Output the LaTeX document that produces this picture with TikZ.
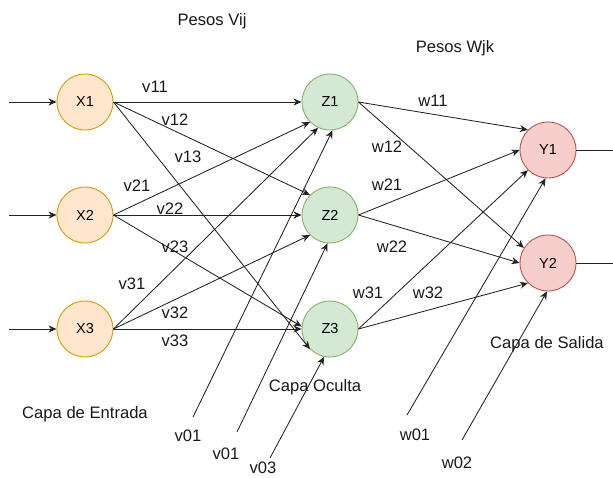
\documentclass[tikz,border=0pt]{standalone}
\usepackage{fontspec}
\setmainfont{Liberation Sans}
\usetikzlibrary{arrows.meta}
\definecolor{xfill}{HTML}{FFE6CC}\definecolor{xdraw}{HTML}{D79B00}
\definecolor{zfill}{HTML}{D5E8D4}\definecolor{zdraw}{HTML}{82B366}
\definecolor{yfill}{HTML}{F8CECC}\definecolor{ydraw}{HTML}{B85450}
\definecolor{edgec}{HTML}{222222}
\tikzset{
  neuron/.style={circle,minimum size=56pt,inner sep=0pt,line width=0.9pt,
    font=\fontsize{14.5}{17}\selectfont},
  xn/.style={neuron,draw=xdraw,fill=xfill},
  zn/.style={neuron,draw=zdraw,fill=zfill},
  yn/.style={neuron,draw=ydraw,fill=yfill},
  conn/.style={draw=edgec,line width=0.85pt,-{Stealth[length=8pt,width=7pt,inset=2.5pt]}},
  plain/.style={draw=edgec,line width=0.85pt},
  lbl/.style={inner sep=0pt,font=\fontsize{16.6}{19}\selectfont,text=black!90}
}
\begin{document}
\begin{tikzpicture}[x=1pt,y=-1pt]
\useasboundingbox (0,0) rectangle (613,477);
% neurons
\node[xn] (X1) at (85,102) {X1};
\node[xn] (X2) at (85,215) {X2};
\node[xn] (X3) at (85,329) {X3};
\node[zn] (Z1) at (330,102) {Z1};
\node[zn] (Z2) at (330,215) {Z2};
\node[zn] (Z3) at (330,329) {Z3};
\node[yn] (Y1) at (548,150) {Y1};
\node[yn] (Y2) at (548,263) {Y2};
% free ends
\coordinate (in1) at (9,102);
\coordinate (in2) at (9,215);
\coordinate (in3) at (9,329);
\coordinate (out1) at (613,150);
\coordinate (out2) at (613,263);
\coordinate (b1) at (193,417);
\coordinate (b2) at (237,432);
\coordinate (b3) at (270,458);
\coordinate (c1) at (407,415);
\coordinate (c2) at (462,440);
% inputs
\draw[conn] (in1) -- (X1.west);
\draw[conn] (in2) -- (X2.west);
\draw[conn] (in3) -- (X3.west);
% input -> hidden
\draw[conn] (X1.east) -- (Z1.west);
\draw[conn] (X1.east) -- (Z2.135);
\draw[conn] (X1.east) -- (Z3.225);
\draw[conn] (X2.east) -- (Z1.225);
\draw[conn] (X2.east) -- (Z2.west);
\draw[conn] (X2.east) -- (Z3.175);
\draw[conn] (X3.east) -- (Z1.245);
\draw[conn] (X3.east) -- (Z2.225);
\draw[conn] (X3.east) -- (Z3.west);
% hidden biases
\draw[conn] (b1) -- (Z1.275);
\draw[conn] (b2) -- (Z2.265);
\draw[conn] (b3) -- (Z3.258);
% hidden -> output
\draw[conn] (Z1.east) -- (Y1.135);
\draw[conn] (Z1.east) -- (Y2.148);
\draw[conn] (Z2.east) -- (Y1.west);
\draw[conn] (Z2.east) -- (Y2.west);
\draw[conn] (Z3.east) -- (Y1.225);
\draw[conn] (Z3.east) -- (Y2.225);
% output biases
\draw[conn] (c1) -- (Y1.265);
\draw[conn] (c2) -- (Y2.268);
% outputs
\draw[plain] (Y1.east) -- (out1);
\draw[plain] (Y2.east) -- (out2);
% labels
\node[lbl] (tv) at (212,21) {Pesos Vij};
\node[lbl] (tw) at (455,48) {Pesos Wjk};
\node[lbl] (l11) at (155,87) {v11};
\node[lbl] (l12) at (175,120) {v12};
\node[lbl] (l13) at (188,157) {v13};
\node[lbl] (l21) at (137,186) {v21};
\node[lbl] (l22) at (170,209) {v22};
\node[lbl] (l23) at (175,247) {v23};
\node[lbl] (l31) at (132,284) {v31};
\node[lbl] (l32) at (175,313) {v32};
\node[lbl] (l33) at (175,341) {v33};
\node[lbl] (ent) at (85,414) {Capa de Entrada};
\node[lbl] (lb1) at (188,436) {v01};
\node[lbl] (lb2) at (226,454) {v01};
\node[lbl] (lb3) at (263,468) {v03};
\node[lbl] (ocu) at (315,387) {Capa Oculta};
\node[lbl] (m11) at (433,101) {w11};
\node[lbl] (m12) at (387,147) {w12};
\node[lbl] (m21) at (387,185) {w21};
\node[lbl] (m22) at (392,247) {w22};
\node[lbl] (m31) at (368,293) {w31};
\node[lbl] (m32) at (428,293) {w32};
\node[lbl] (sal) at (547,344) {Capa de Salida};
\node[lbl] (mb1) at (415,435) {w01};
\node[lbl] (mb2) at (457,463) {w02};
\end{tikzpicture}
\end{document}
